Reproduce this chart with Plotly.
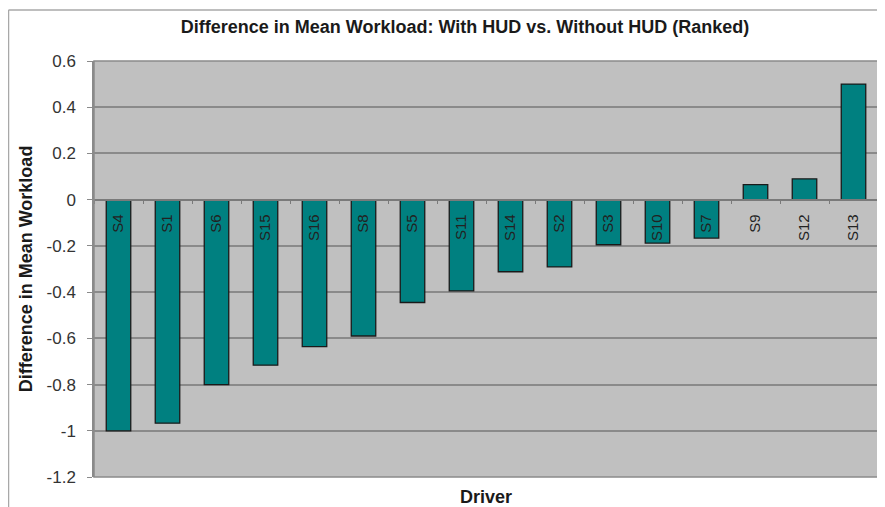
import plotly.graph_objects as go

drivers = ["S4", "S1", "S6", "S15", "S16", "S8", "S5", "S11", "S14", "S2",
           "S3", "S10", "S7", "S9", "S12", "S13"]
diff_values = [-1.0, -0.967, -0.80, -0.716, -0.636, -0.59, -0.445, -0.395,
               -0.312, -0.291, -0.195, -0.188, -0.166, 0.065, 0.09, 0.50]
y_ticks = [0.6, 0.4, 0.2, 0, -0.2, -0.4, -0.6, -0.8, -1, -1.2]
y_tick_labels = ["0.6", "0.4", "0.2", "0", "-0.2", "-0.4", "-0.6", "-0.8", "-1", "-1.2"]

title_text = "Difference in Mean Workload: With HUD vs. Without HUD (Ranked)"
y_title = "Difference in Mean Workload"
x_title = "Driver"

ymin, ymax = -1.2, 0.6
zero_pos = (0 - ymin) / (ymax - ymin)

FONT = "Liberation Sans, Arial, sans-serif"

# the page body has an 8px default margin, so the figure is sized to fit after it
W, H = 877, 499
ML, MR, MT, MB = 86, 7, 53, 30
PW, PH = W - ML - MR, H - MT - MB

fig = go.Figure(go.Bar(
    x=drivers, y=diff_values,
    marker=dict(color="#008080", line=dict(color="#1a1a1a", width=1.3)),
    width=0.5,
))

fig.update_layout(
    width=W, height=H,
    margin=dict(l=ML, r=MR, t=MT, b=MB),
    paper_bgcolor="white",
    plot_bgcolor="#C0C0C0",
    showlegend=False,
    font=dict(family=FONT, color="#222222"),
    title=dict(text="<b>" + title_text + "</b>", x=457 / W, xanchor="center",
               y=1 - 19 / H, yanchor="middle", font=dict(size=18, color="#1a1a1a")),
    bargap=0.5,
)

fig.update_yaxes(
    range=[ymin, ymax], tickvals=y_ticks, ticktext=y_tick_labels,
    automargin=False,
    showgrid=True, gridcolor="#8a8a8a", gridwidth=1.5,
    zeroline=False,
    ticks="outside", ticklen=5, tickcolor="#8a8a8a",
    ticklabelstandoff=8,
    tickfont=dict(size=17, color="#333333"),
    showline=True, linecolor="#8a8a8a", linewidth=1.5,
    title=dict(text="<b>" + y_title + "</b>", font=dict(size=18, color="#1a1a1a"),
               standoff=9),
)

fig.update_xaxes(
    anchor="free", position=zero_pos,
    automargin=False,
    showgrid=False, zeroline=False,
    showline=True, linecolor="#7a7a7a", linewidth=1.5,
    ticks="outside", ticklen=4, tickcolor="#7a7a7a", tickson="boundaries",
    tickangle=-90, ticklabelstandoff=8,
    tickfont=dict(size=15, color="#222222"),
)

fig.add_annotation(
    text="<b>" + x_title + "</b>", xref="paper", yref="paper",
    x=0.5, y=0, yshift=-20, showarrow=False,
    font=dict(size=18, color="#1a1a1a"), xanchor="center", yanchor="middle",
)

# plot-area frame
fig.add_shape(type="rect", xref="paper", yref="paper", x0=0, x1=1, y0=0, y1=1,
              line=dict(color="#8a8a8a", width=1.5), layer="above")
# chart-area border (top and left edges visible)
fx0 = -(ML - 0.5) / PW
fy1 = 1 + (MT - 2) / PH
fig.add_shape(type="line", xref="paper", yref="paper", x0=fx0, x1=1 + MR / PW,
              y0=fy1, y1=fy1, line=dict(color="#a8a8a8", width=1.5))
fig.add_shape(type="line", xref="paper", yref="paper", x0=fx0, x1=fx0,
              y0=fy1, y1=-MB / PH, line=dict(color="#a8a8a8", width=1.5))

fig.write_html("out.html")
